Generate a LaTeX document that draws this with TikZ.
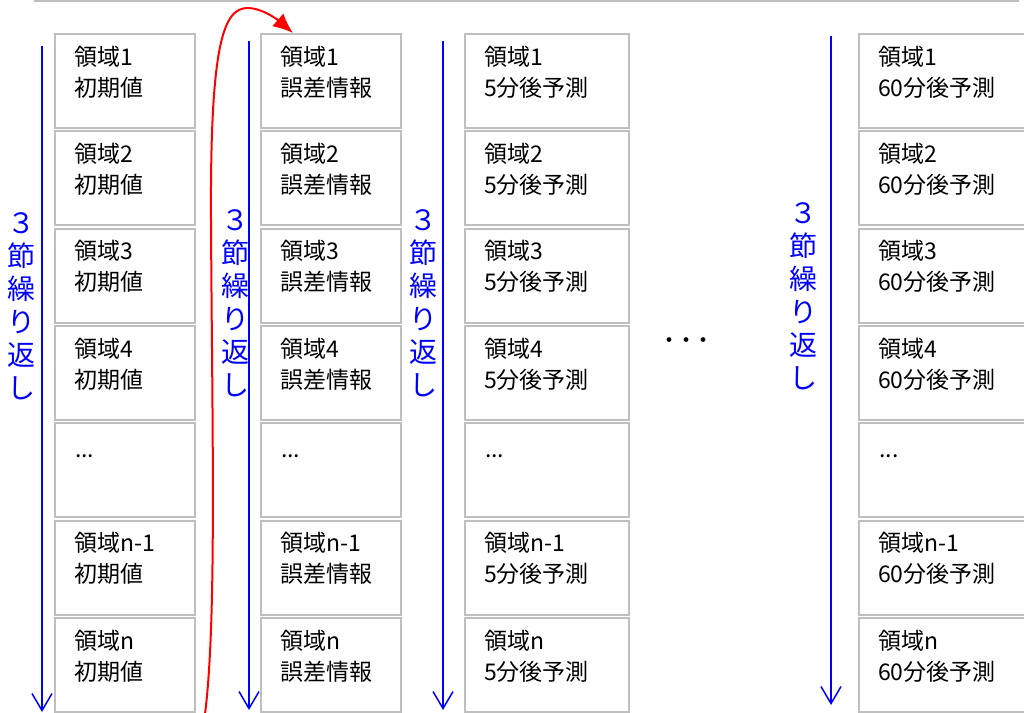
\documentclass[tikz,border=0pt]{standalone}
\usepackage{fontspec}
\setmainfont{Noto Sans CJK JP}
\usetikzlibrary{arrows.meta}
\definecolor{boxgray}{RGB}{191,191,191}
\begin{document}
\begin{tikzpicture}[x=1pt,y=-1pt,
  cell/.style={draw=boxgray, line width=2pt, minimum height=94pt, anchor=north west, inner sep=0pt},
  celltext/.style={anchor=north west, inner sep=0pt, align=left, font=\fontsize{23}{31}\selectfont},
  rep/.style={blue, align=center, font=\fontsize{28}{33}\selectfont, inner sep=0pt},
  loopline/.style={blue, line width=1.5pt, -{Straight Barb[length=17pt,width=20pt]}},
]
\useasboundingbox (0,0) rectangle (1024,712);

% top frame
\node[draw=boxgray, line width=2pt, minimum width=983pt, minimum height=30pt, anchor=south west, inner sep=0pt] (topframe) at (34,2) {};

% columns of cells
\foreach \col/\x/\w/\lab in {1/54/140/初期値, 2/260/140/誤差情報, 3/464/164/5分後予測, 4/858/170/60分後予測} {
  \foreach \row/\rl in {1/1,2/2,3/3,4/4,6/n-1,7/n} {
    \node[cell, minimum width=\w pt] (b\col-\row) at (\x, {33+97.33*(\row-1)}) {};
    \node[celltext] (t\col-\row) at ([xshift=20pt, yshift=-12.5pt]b\col-\row.north west) {領域\rl\\\lab};
  }
  \node[cell, minimum width=\w pt] (b\col-5) at (\x, {33+97.33*4}) {};
  \node[celltext, anchor=base west] (t\col-5) at ([xshift=21pt, yshift=-35pt]b\col-5.north west) {...};
}

% blue loop arrows
\coordinate (a1s) at (42,46);  \coordinate (a1e) at (42,712);
\coordinate (a2s) at (249,41); \coordinate (a2e) at (249,710);
\coordinate (a3s) at (443,41); \coordinate (a3e) at (443,710);
\coordinate (a4s) at (831,36); \coordinate (a4e) at (831,705);
\draw[loopline] (a1s) -- (a1e);
\draw[loopline] (a2s) -- (a2e);
\draw[loopline] (a3s) -- (a3e);
\draw[loopline] (a4s) -- (a4e);

% blue labels
\node[rep] (l1) at (22,306) {３\\節\\繰\\り\\返\\し};
\node[rep] (l2) at (235,303) {３\\節\\繰\\り\\返\\し};
\node[rep] (l3) at (423,303) {３\\節\\繰\\り\\返\\し};
\node[rep] (l4) at (803,296) {３\\節\\繰\\り\\返\\し};

% ellipsis between columns
\node[font=\fontsize{17}{17}\selectfont\bfseries, inner sep=0pt] (dots) at (686,342) {・・・};

% red feedback arrow
\coordinate (rs) at (205,714);
\coordinate (rt) at ([xshift=33pt]b2-1.north west);
\draw[red, line width=2pt, -{Latex[length=20pt,width=17pt]}] (rs) .. controls (217,620) and (212,420) .. (211,220) .. controls (210,40) and (224,8) .. (248,8) .. controls (262,8) and (278,20) .. (rt);
\end{tikzpicture}
\end{document}
